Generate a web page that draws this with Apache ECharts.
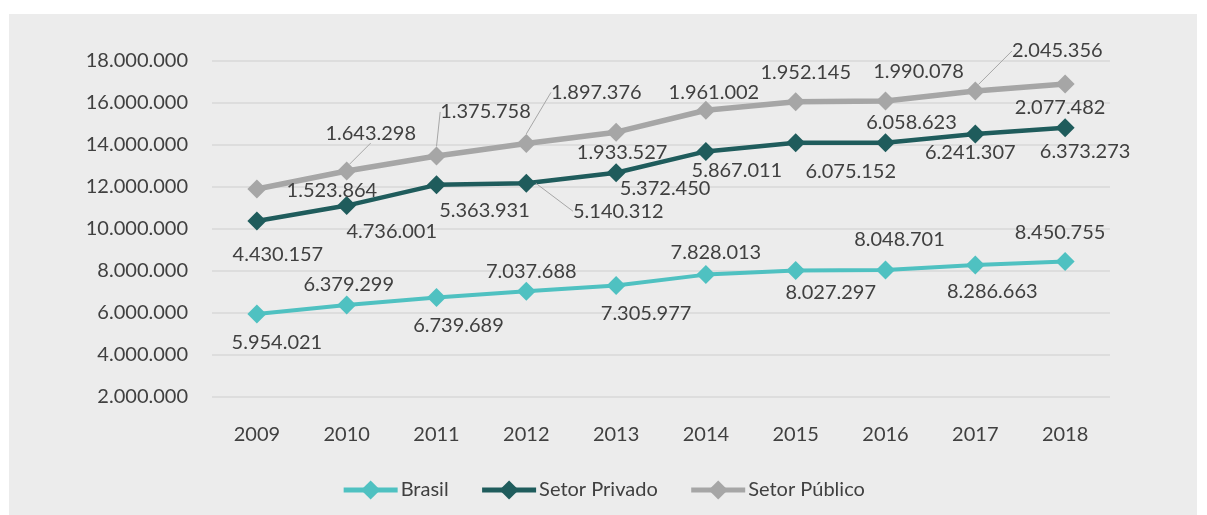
<!DOCTYPE html>
<html>
<head>
<meta charset="utf-8">
<script src="https://cdn.jsdelivr.net/npm/echarts@6/dist/echarts.min.js"></script>
<style>
    html, body { margin: 0; padding: 0; background: #ffffff; }
    #grafico { position: absolute; left: 9px; top: 14px; width: 1188px; height: 501px; background: #ececec; }
</style>
</head>
<body>
<div id="grafico"></div>
<script>
// dados
var anos = ['2009', '2010', '2011', '2012', '2013', '2014', '2015', '2016', '2017', '2018'];
var brasil = [5954021, 6379299, 6739689, 7037688, 7305977, 7828013, 8027297, 8048701, 8286663, 8450755];
var setorPrivado = [4430157, 4736001, 5363931, 5140312, 5372450, 5867011, 6075152, 6058623, 6241307, 6373273];
var setorPublico = [1523864, 1643298, 1375758, 1897376, 1933527, 1961002, 1952145, 1990078, 2045356, 2077482];
var nomes = ['Brasil', 'Setor Privado', 'Setor Público'];

// deslocamento dos rótulos (dx, dy) em relação ao ponto
var offBrasil = [[20, 29], [2, -20], [22, 28], [5, -20], [30, 28], [10, -22], [35, 22], [14, -30], [17, 27], [-5, -29]];
var offPrivado = [[21, 34], [45, 26], [48, 26], [92, 28], [49, 16], [31, 19], [55, 29], [26, -20], [-5, 19], [20, 24]];
var offPublico = [[75, 2], [24, -38], [49, -44], [70, -51], [6, 20], [8, -18], [10, -29], [33, -29], [82, -40], [-5, 23]];
// pontos com linha de chamada
var guiaPrivado = [3];
var guiaPublico = [1, 2, 3, 8];

var fonte = 'Lato';
var corTexto = '#404040';

var fmt = function(v) {
    return String(v).replace(/\B(?=(\d{3})+(?!\d))/g, '.');
};

var montaDados = function(valores, guias) {
    var arr = [];
    for (var i = 0; i < valores.length; i++) {
        var item = { value: valores[i] };
        if (guias.indexOf(i) >= 0) {
            item.labelLine = { show: true };
        }
        arr.push(item);
    }
    return arr;
};

var serie = function(nome, valores, cor, largura, offs, guias) {
    return {
        name: nome,
        type: 'line',
        stack: 'total',
        data: montaDados(valores, guias),
        symbol: 'diamond',
        symbolSize: 19,
        lineStyle: { color: cor, width: largura },
        itemStyle: { color: cor },
        label: {
            show: true,
            position: 'inside',
            color: corTexto,
            fontFamily: fonte,
            fontSize: 20,
            formatter: function(p) { return fmt(p.value); }
        },
        labelLine: {
            show: false,
            lineStyle: { color: '#a6a6a6', width: 1 }
        },
        labelLayout: function(p) {
            var o = offs[p.dataIndex];
            return { dx: o[0], dy: o[1] };
        },
        emphasis: { disabled: true }
    };
};

var chart = echarts.init(document.getElementById('grafico'));
var option = {
    animation: false,
    textStyle: { fontFamily: fonte },
    grid: { left: 203, right: 87, top: 47, bottom: 118 },
    legend: {
        data: nomes,
        left: 'center',
        top: 461,
        itemWidth: 54,
        itemHeight: 24,
        itemGap: 31,
        lineStyle: { width: 5 },
        textStyle: { color: corTexto, fontSize: 20, fontFamily: fonte, padding: [0, 0, 0, -2] }
    },
    xAxis: {
        type: 'category',
        data: anos,
        axisLine: { show: false },
        axisTick: { show: false },
        axisLabel: { color: corTexto, fontSize: 20, margin: 28, fontFamily: fonte }
    },
    yAxis: {
        type: 'value',
        min: 2000000,
        max: 18000000,
        interval: 2000000,
        axisLine: { show: false },
        axisTick: { show: false },
        splitLine: { lineStyle: { color: '#d9d9d9', width: 1.5 } },
        axisLabel: {
            color: corTexto, fontSize: 20, margin: 24, fontFamily: fonte,
            formatter: function(v) { return fmt(v); }
        }
    },
    series: [
        serie(nomes[0], brasil, '#4fc1c1', 4, offBrasil, []),
        serie(nomes[1], setorPrivado, '#1f5c5c', 4.5, offPrivado, guiaPrivado),
        serie(nomes[2], setorPublico, '#a6a6a6', 5.5, offPublico, guiaPublico)
    ]
};
chart.setOption(option);
</script>
</body>
</html>
